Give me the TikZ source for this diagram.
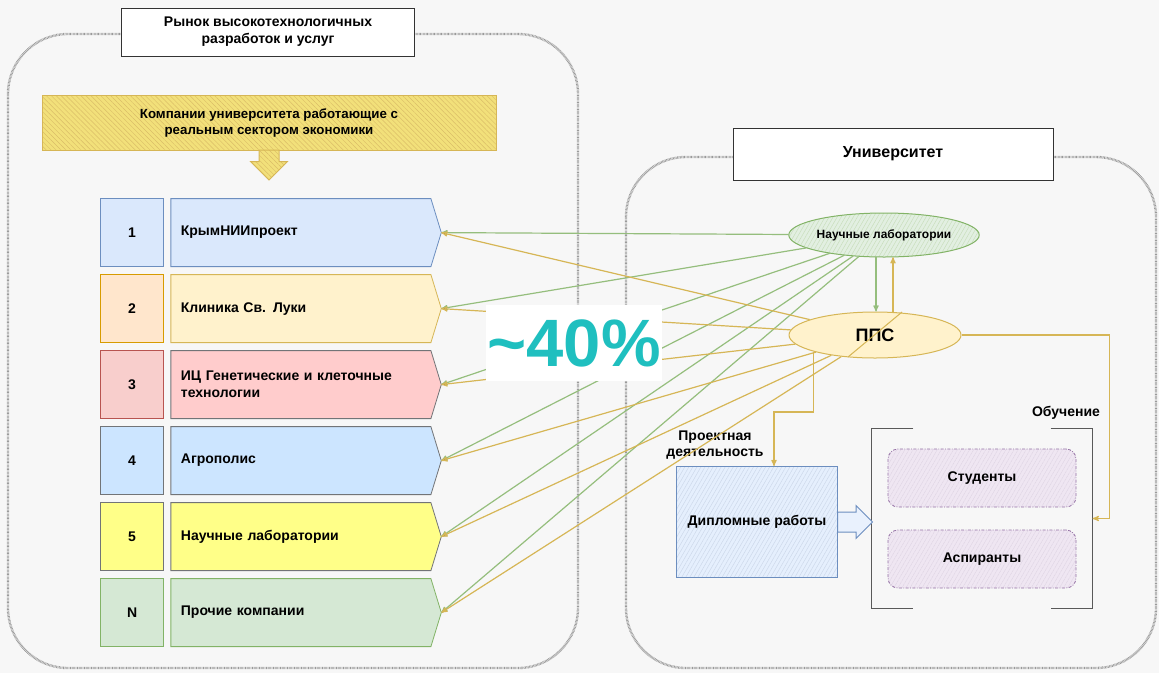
\documentclass[tikz,border=0pt]{standalone}
\usepackage{fontspec}
\setmainfont{Liberation Sans}
\usetikzlibrary{matrix,arrows,positioning,fit,shapes.symbols,shapes.geometric,shapes.arrows,patterns.meta}

\definecolor{pageBg}{HTML}{F7F7F7}
\definecolor{frameGray}{HTML}{9A9A9A}
\definecolor{blueFill}{HTML}{DAE8FC}   \definecolor{blueLine}{HTML}{6C8EBF}
\definecolor{orangeFill}{HTML}{FFE6CC} \definecolor{orangeLine}{HTML}{D79B00}
\definecolor{creamFill}{HTML}{FFF2CC}  \definecolor{creamLine}{HTML}{D6B656}
\definecolor{redFill}{HTML}{F8CECC}    \definecolor{redLine}{HTML}{B85450}
\definecolor{pinkFill}{HTML}{FFCCCC}   \definecolor{darkLine}{HTML}{36393D}
\definecolor{skyFill}{HTML}{CCE5FF}
\definecolor{lemonFill}{HTML}{FFFF88}
\definecolor{greenFill}{HTML}{D5E8D4}  \definecolor{greenLine}{HTML}{82B366}
\definecolor{goldFill}{HTML}{F2E07A}
\definecolor{lilacFill}{HTML}{EFE6F2}  \definecolor{lilacLine}{HTML}{9673A6}
\definecolor{shareTeal}{HTML}{1FBFBF}

\tikzset{
  frame/.style={draw=frameGray, line width=2.4pt, dash pattern=on 0.7pt off 0.7pt,
    rounded corners=60pt},
  titlebox/.style={draw=black!80, fill=white, line width=0.8pt, align=center,
    font=\fontsize{14}{17}\selectfont\bfseries},
  numbox/.style={draw, line width=0.8pt, minimum width=63pt, minimum height=68pt,
    inner sep=0pt, outer sep=0pt, anchor=center, font=\fontsize{14}{17}\selectfont\bfseries},
  namebox/.style={draw, line width=0.8pt, signal, signal to=east,
    signal pointer angle=146, minimum height=68pt, text width=240pt,
    inner xsep=10pt, inner ysep=0pt, outer sep=0pt, anchor=center, align=left,
    font=\fontsize{14}{17}\selectfont\bfseries},
  rowBlue/.style={fill=blueFill, draw=blueLine},
  rowOrange/.style={fill=orangeFill, draw=orangeLine},
  rowCream/.style={fill=creamFill, draw=creamLine},
  rowRed/.style={fill=redFill, draw=redLine},
  rowPink/.style={fill=pinkFill, draw=darkLine!70},
  rowSky/.style={fill=skyFill, draw=darkLine!70},
  rowLemon/.style={fill=lemonFill, draw=darkLine!70},
  rowGreen/.style={fill=greenFill, draw=greenLine},
  hatched/.style 2 args={preaction={fill=#1},
    pattern={Lines[angle=#2, distance=3.5pt, line width=0.45pt]}},
  labell/.style={ellipse, draw=greenLine, line width=1pt, hatched={greenFill!70}{60},
    pattern color=greenLine!45, minimum width=172pt, minimum height=44pt,
    inner sep=0pt, font=\fontsize{12}{14}\selectfont\bfseries},
  ppsell/.style={ellipse, draw=creamLine, line width=1pt, fill=creamFill,
    minimum width=172pt, minimum height=46pt, inner sep=0pt,
    font=\fontsize{18}{20}\selectfont\bfseries},
  dipbox/.style={draw=blueLine, line width=1pt, hatched={blueFill!70}{60},
    pattern color=blueLine!35, minimum width=161pt, minimum height=111pt,
    inner sep=0pt, font=\fontsize{14}{17}\selectfont\bfseries},
  studbox/.style={draw=lilacLine, line width=0.8pt, dash pattern=on 3pt off 1.5pt on 0.8pt off 1.5pt,
    rounded corners=10pt, hatched={lilacFill}{60}, pattern color=lilacLine!30,
    minimum width=188pt, minimum height=58pt, inner sep=0pt,
    font=\fontsize{14}{17}\selectfont\bfseries},
  bracket/.style={draw=black!65, line width=1.6pt},
  greenline/.style={draw=greenLine!85, line width=1.2pt},
  yellowline/.style={draw=creamLine, line width=1.2pt},
  note/.style={align=center, font=\fontsize{14}{16}\selectfont\bfseries},
}

\begin{document}
\begin{tikzpicture}[x=1pt, y=-1pt, >=stealth']
  \fill[pageBg] (0,0) rectangle (1159,673);
  \useasboundingbox (0,0) rectangle (1159,673);

  % two areas
  \draw[frame] (8,34) rectangle (578,668);
  \draw[frame] (626,157) rectangle (1156,668);
  \node[titlebox, minimum width=293pt, minimum height=48pt] (market) at (268,32)
    {Рынок высокотехнологичных\\разработок и услуг};
  \node[titlebox, minimum width=320pt, minimum height=52pt,
    font=\fontsize{16}{18}\selectfont\bfseries] (univ) at (893,154) {Университет};

  % companies
  \node[hatched={goldFill}{-45}, pattern color=creamLine!90, draw=creamLine, line width=1pt,
    minimum width=454pt, minimum height=55pt, align=center,
    font=\fontsize{13.3}{16}\selectfont\bfseries] (comp) at (269,122.5)
    {Компании университета работающие с\\реальным сектором экономики};
  \node[single arrow, shape border rotate=270, draw=creamLine, line width=1pt,
    hatched={goldFill}{-45}, pattern color=creamLine!90, inner sep=9.5pt,
    single arrow head extend=8.5pt, minimum height=30pt,
    below=-1pt of comp] (compArrow) {};

  \matrix (m) [matrix of nodes, row sep=7.2pt, column sep=6.5pt, anchor=north west,
    inner sep=0pt, column 1/.style={nodes={numbox}}, column 2/.style={nodes={namebox}}]
    at (100,198)
  {
    |[rowBlue]| 1   & |[rowBlue]| КрымНИИпроект \\
    |[rowOrange]| 2 & |[rowCream]| Клиника Св. Луки \\
    |[rowRed]| 3    & |[rowPink]| ИЦ Генетические и клеточные технологии \\
    |[rowSky]| 4    & |[rowSky]| Агрополис \\
    |[rowLemon]| 5  & |[rowLemon]| Научные лаборатории \\
    |[rowGreen]| N  & |[rowGreen]| Прочие компании \\
  };

  % university
  \node[labell] (lab) at (884,235) {Научные лаборатории};
  \node[ppsell] (pps) at (875,335) {ППС};
  \draw[creamLine, line width=1pt] (902,312) -- (848,357);
  \node[dipbox] (dip) at (757,522) {Дипломные работы};
  \node[studbox] (stud) at (982,478) {Студенты};
  \node[studbox] (asp) at (982,559) {Аспиранты};
  \node[fit=(stud)(asp), inner xsep=16pt, inner ysep=20pt] (grp) {};
  \draw[bracket] ([xshift=42pt]grp.north west) -- (grp.north west) -- (grp.south west)
    -- ([xshift=42pt]grp.south west);
  \draw[bracket] ([xshift=-42pt]grp.north east) -- (grp.north east) -- (grp.south east)
    -- ([xshift=-42pt]grp.south east);
  \node[single arrow, draw=blueLine, fill=blueFill!60, line width=1pt,
    inner xsep=0pt, inner ysep=9.5pt, single arrow head extend=6.5pt,
    minimum height=35pt, right=-1pt of dip] (dipArrow) {};
  \node[note] (projLbl) at (715,445) {Проектная\\деятельность};
  \node[note] (studyLbl) at (1066,413) {Обучение};

  % links
  \path[->, greenline]
  (lab) edge (m-1-2.east) edge (m-2-2.east) edge (m-3-2.east)
        edge (m-4-2.east) edge (m-5-2.east) edge (m-6-2.east)
  ;
  \path[->, yellowline]
  (pps) edge (m-1-2.east) edge (m-2-2.east) edge (m-3-2.east)
        edge (m-4-2.east) edge (m-5-2.east) edge (m-6-2.east)
  ;
  \draw[->, greenline] ([xshift=-8pt]lab.south) -- ([xshift=-8pt]lab.south |- pps.north);
  \draw[->, yellowline] ([xshift=9pt]lab.south |- pps.north) -- ([xshift=9pt]lab.south);
  \draw[->, yellowline] (pps.east) -| ([xshift=17pt]grp.east) -- (grp.east);
  \draw[->, yellowline] (pps.195) |- ([xshift=17pt,yshift=54pt]dip.north)
    -- ([xshift=17pt]dip.north);

  \node[fill=white, text=shareTeal, minimum width=176pt, minimum height=76pt,
    inner sep=0pt, font=\fontsize{67}{67}\selectfont\bfseries] (share) at (574,343)
    {\textasciitilde40\%};
\end{tikzpicture}
\end{document}
